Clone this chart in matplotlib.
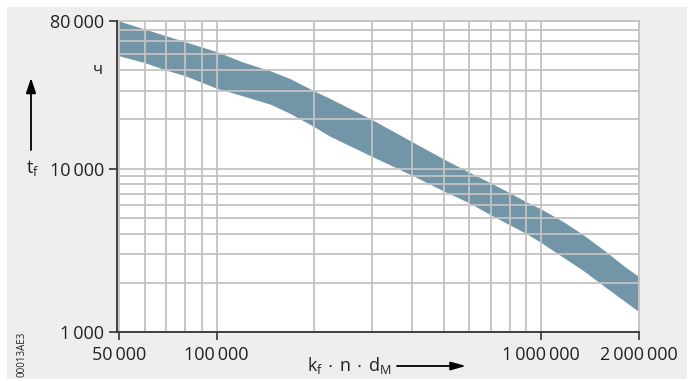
import numpy as np
import matplotlib
matplotlib.use("Agg")
import matplotlib.pyplot as plt
from matplotlib.patches import Rectangle, FancyArrowPatch

plt.rcParams['font.family'] = ['Open Sans', 'DejaVu Sans']

# band (k_f*n*d_M -> t_f in hours)
x_vals = [50000, 60000, 70000, 80000, 100000, 120000, 146000, 168000, 200000,
          223000, 300000, 400000, 500000, 600000, 700000, 800000, 900000,
          1000000, 1170000, 1350000, 1560000, 1800000, 2000000]
upper = [80000, 71400, 64900, 59700, 51900, 45000, 39700, 35600, 29800,
         26900, 20000, 14600, 11450, 9500, 8150, 7100, 6250,
         5650, 4730, 3920, 3170, 2530, 2180]
lower = [49000, 44500, 40000, 37000, 31000, 27900, 24800, 21800, 18000,
         15800, 11900, 9100, 7300, 6170, 5200, 4520, 4000,
         3520, 2860, 2370, 1910, 1550, 1330]

ts = '\u2009'
x_major = [50000, 100000, 1000000, 2000000]
x_major_lbl = ['50' + ts + '000', '100' + ts + '000', '1' + ts + '000' + ts + '000',
               '2' + ts + '000' + ts + '000']
y_major = [1000, 10000, 80000]
y_major_lbl = ['1' + ts + '000', '10' + ts + '000', '80' + ts + '000']

x_minor = [60000, 70000, 80000, 90000, 200000, 300000, 400000, 500000, 600000,
           700000, 800000, 900000]
y_minor = [2000, 3000, 4000, 5000, 6000, 7000, 8000, 9000, 20000, 30000,
           40000, 50000, 60000, 70000]

W, H = 689, 381
fig = plt.figure(figsize=(W / 100, H / 100), dpi=100, facecolor='white')
# grey panel behind everything
fig.patches.append(Rectangle((7 / W, 2 / H), 680 / W, 372 / H,
                             transform=fig.transFigure, facecolor='#efeeec',
                             edgecolor='none', zorder=-10))

ax = fig.add_axes([117 / W, 1 - 332 / H, (639 - 117) / W, (332 - 21) / H])
ax.set_zorder(1)
ax.set_facecolor('white')
ax.set_xscale('log')
ax.set_yscale('log')
ax.set_xlim(49300, 2000000)
ax.set_ylim(1000, 80000)

ax.fill_between(x_vals, lower, upper, color='#7295a8', linewidth=0, zorder=1)

ax.set_xticks(x_major, x_major_lbl)
ax.set_yticks(y_major, y_major_lbl)
ax.set_xticks(x_minor, minor=True)
ax.set_yticks(y_minor, minor=True)
ax.tick_params(which='minor', length=0, labelleft=False, labelbottom=False)
ax.tick_params(which='major', direction='out', length=6, width=1.2,
               color='#333333', labelsize=13, labelcolor='#222222', pad=3)
ax.tick_params(axis='x', which='major', pad=4)

ax.set_axisbelow(False)
ax.grid(which='both', color='#c3c3c3', linewidth=1.3)

for s in ['top', 'right']:
    ax.spines[s].set_color('#c3c3c3')
    ax.spines[s].set_linewidth(1.3)
for s in ['left', 'bottom']:
    ax.spines[s].set_color('#333333')
    ax.spines[s].set_linewidth(1.3)
    ax.spines[s].set_zorder(3)

# unit and axis labels
fig.text(98 / W, 1 - 70 / H, 'ч', fontsize=12, color='#222222',
         ha='center', va='center')
fig.text(33 / W, 1 - 168 / H, r'$\mathregular{t_f}$', fontsize=13,
         color='#222222', ha='center', va='center')
fig.patches.append(FancyArrowPatch((31 / W, 1 - 150 / H), (31 / W, 1 - 78 / H),
                                   transform=fig.transFigure,
                                   arrowstyle='-|>,head_length=9,head_width=3',
                                   color='black', lw=1.3, shrinkA=0, shrinkB=0))

fig.text(349 / W, 1 - 366 / H,
         r'$\mathregular{k_f\,\cdot\,n\,\cdot\,d_M}$', fontsize=13,
         color='#222222', ha='center', va='center')
fig.patches.append(FancyArrowPatch((397 / W, 1 - 366 / H), (466 / W, 1 - 366 / H),
                                   transform=fig.transFigure,
                                   arrowstyle='-|>,head_length=9,head_width=2.5',
                                   color='black', lw=1.3, shrinkA=0, shrinkB=0))

fig.text(22 / W, 1 - 354 / H, '00013AE3', fontsize=7, rotation=90,
         color='#222222', ha='center', va='center')

fig.savefig('out.png', dpi=100, facecolor='white')
